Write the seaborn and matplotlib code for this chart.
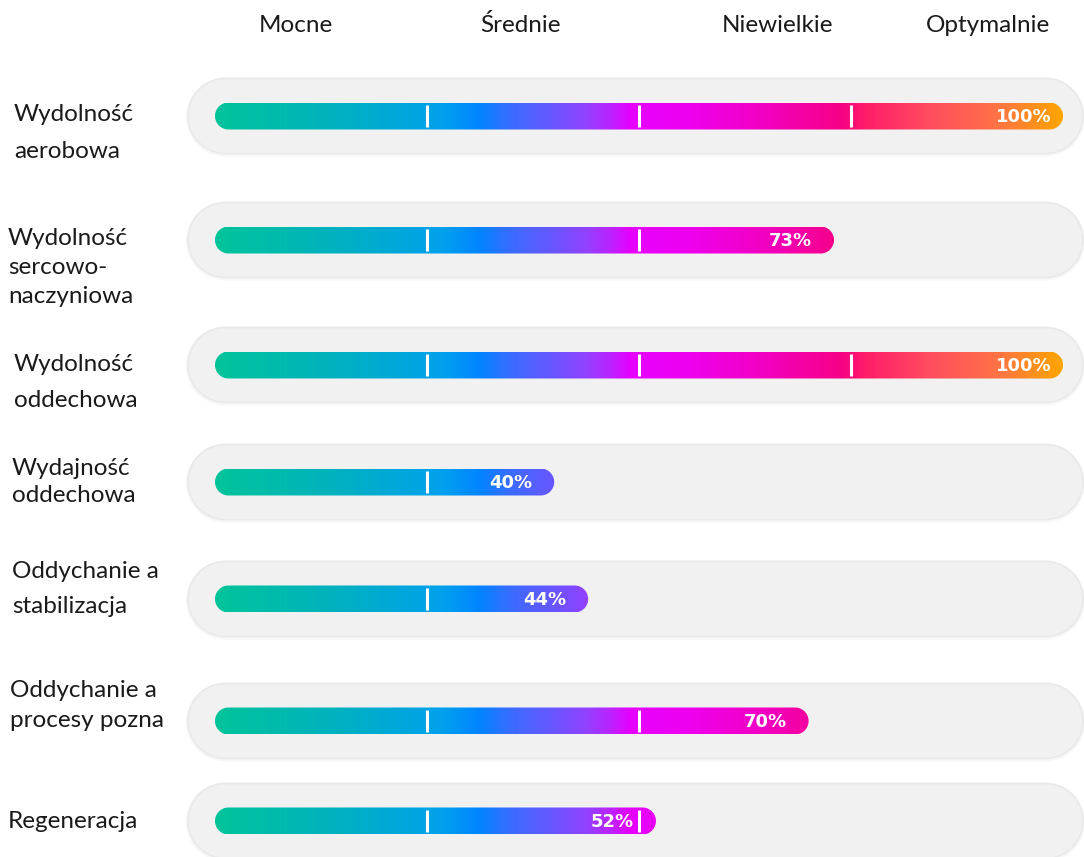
import numpy as np
import pandas as pd
import matplotlib
matplotlib.use("Agg")
import matplotlib.pyplot as plt
import seaborn as sns
from matplotlib.patches import Polygon
from matplotlib.colors import LinearSegmentedColormap

# ---------------- data ----------------
categories = [
    "Wydolność\naerobowa",
    "Wydolność\nsercowo-\nnaczyniowa",
    "Wydolność\noddechowa",
    "Wydajność\noddechowa",
    "Oddychanie a\nstabilizacja",
    "Oddychanie a\nprocesy pozna",
    "Regeneracja",
]
values = [100, 73, 100, 40, 44, 70, 52]
levels = ["Mocne", "Średnie", "Niewielkie", "Optymalnie"]
level_marks = [25, 50, 75]

# ---------------- layout (pixels) ----------------
W, H = 1084, 857
X0, PXU = 215, 8.48            # pixel of 0 %, pixels per 1 %
row_y = [116, 240, 365, 482, 599, 721, 821]
label_x = [14, 8, 14, 12, 12, 10, 8]
label_base = [121, 245, 371, 475, 578, 697, 828]
label_gap = [37, 29, 36, 27, 35, 30, 0]
header_px = [296, 520, 778, 988]
header_base = 32
bar_h = 27
track_h = 75
track_l, track_r = 188, 1083


def px2x(p):
    return (p - X0) / PXU


def pill(xl, xr, yc, h, n=40):
    """Polygon vertices of a pill (data units; y in px, x in %)."""
    r = h / 2
    rx = r / PXU
    t1 = np.linspace(-np.pi / 2, np.pi / 2, n)
    t2 = np.linspace(np.pi / 2, 3 * np.pi / 2, n)
    right = np.column_stack([xr - rx + rx * np.cos(t1), yc + r * np.sin(t1)])
    left = np.column_stack([xl + rx + rx * np.cos(t2), yc + r * np.sin(t2)])
    return np.vstack([right, left])


sns.set_theme(style="white")
plt.rcParams["font.family"] = ["Lato", "DejaVu Sans"]

fig = plt.figure(figsize=(W / 100, H / 100), dpi=100)
ax = fig.add_axes([0, 0, 1, 1])

df = pd.DataFrame({"cat": categories, "value": values, "y": row_y})
native = np.min(np.diff(sorted(row_y)))
sns.barplot(data=df, x="value", y="y", orient="y", native_scale=True,
            width=bar_h / native, color="#00a0f0", ax=ax, errorbar=None)
bars = list(ax.patches)

stops = [
    (0.00, "#00C49A"), (0.15, "#00B0C2"), (0.27, "#00A0EE"), (0.31, "#0085FF"),
    (0.35, "#3C6BFF"), (0.40, "#6A55FF"), (0.44, "#9440FF"), (0.47, "#C21EFF"),
    (0.49, "#E600FF"), (0.56, "#EE00EE"), (0.65, "#F200C0"), (0.74, "#F70085"),
    (0.765, "#FF1A6A"), (0.84, "#FF4A60"), (0.92, "#FF7048"), (1.00, "#FFA500"),
]
cmap = LinearSegmentedColormap.from_list("grad", stops)
grad = np.linspace(0, 1, 512).reshape(1, -1)

for i, p in enumerate(bars):
    x0, w, y0, h = p.get_x(), p.get_width(), p.get_y(), p.get_height()
    yc = y0 + h / 2
    p.set_visible(False)
    # soft track shadow + track
    ax.add_patch(Polygon(pill(px2x(track_l - 2), px2x(track_r + 2), yc + 1, track_h + 4),
                         closed=True, facecolor="#f7f7f7", edgecolor="none", zorder=0.8))
    ax.add_patch(Polygon(pill(px2x(track_l), px2x(track_r), yc, track_h),
                         closed=True, facecolor="#f1f1f1", edgecolor="#e9e9e9",
                         lw=1.2, zorder=1))
    # gradient bar clipped to a pill
    clip = Polygon(pill(x0, x0 + w, yc, h), closed=True, facecolor="none",
                   edgecolor="none", transform=ax.transData)
    ax.add_patch(clip)
    im = ax.imshow(grad, extent=[0, 100, y0 + h, y0], cmap=cmap, aspect="auto",
                   interpolation="bilinear", zorder=3)
    im.set_clip_path(clip)
    v = values[i]
    for m in level_marks:
        if v > m + 1:
            ax.plot([m, m], [yc - 11, yc + 11], color="white", lw=2.2,
                    solid_capstyle="butt", zorder=4)
    off = 11 if v >= 100 else 22
    ax.text(x0 + w - off / PXU, yc + 1, f"{v}%", ha="right", va="center",
            color="white", fontsize=13, fontweight="bold",
            family=["DejaVu Sans"], zorder=5)

# row labels
for i, cat in enumerate(categories):
    for j, line in enumerate(cat.split("\n")):
        ax.text(px2x(label_x[i]), label_base[i] + j * label_gap[i], line,
                ha="left", va="baseline", fontsize=17.5, color="#1a1a1a")

# headers
for lvl, hx in zip(levels, header_px):
    ax.text(px2x(hx), header_base, lvl, ha="center", va="baseline",
            fontsize=17.5, color="#1a1a1a")

ax.set_xlim(px2x(0), px2x(W))
ax.set_ylim(H, 0)
ax.axis("off")
fig.savefig("out.png", dpi=100, facecolor="white")
